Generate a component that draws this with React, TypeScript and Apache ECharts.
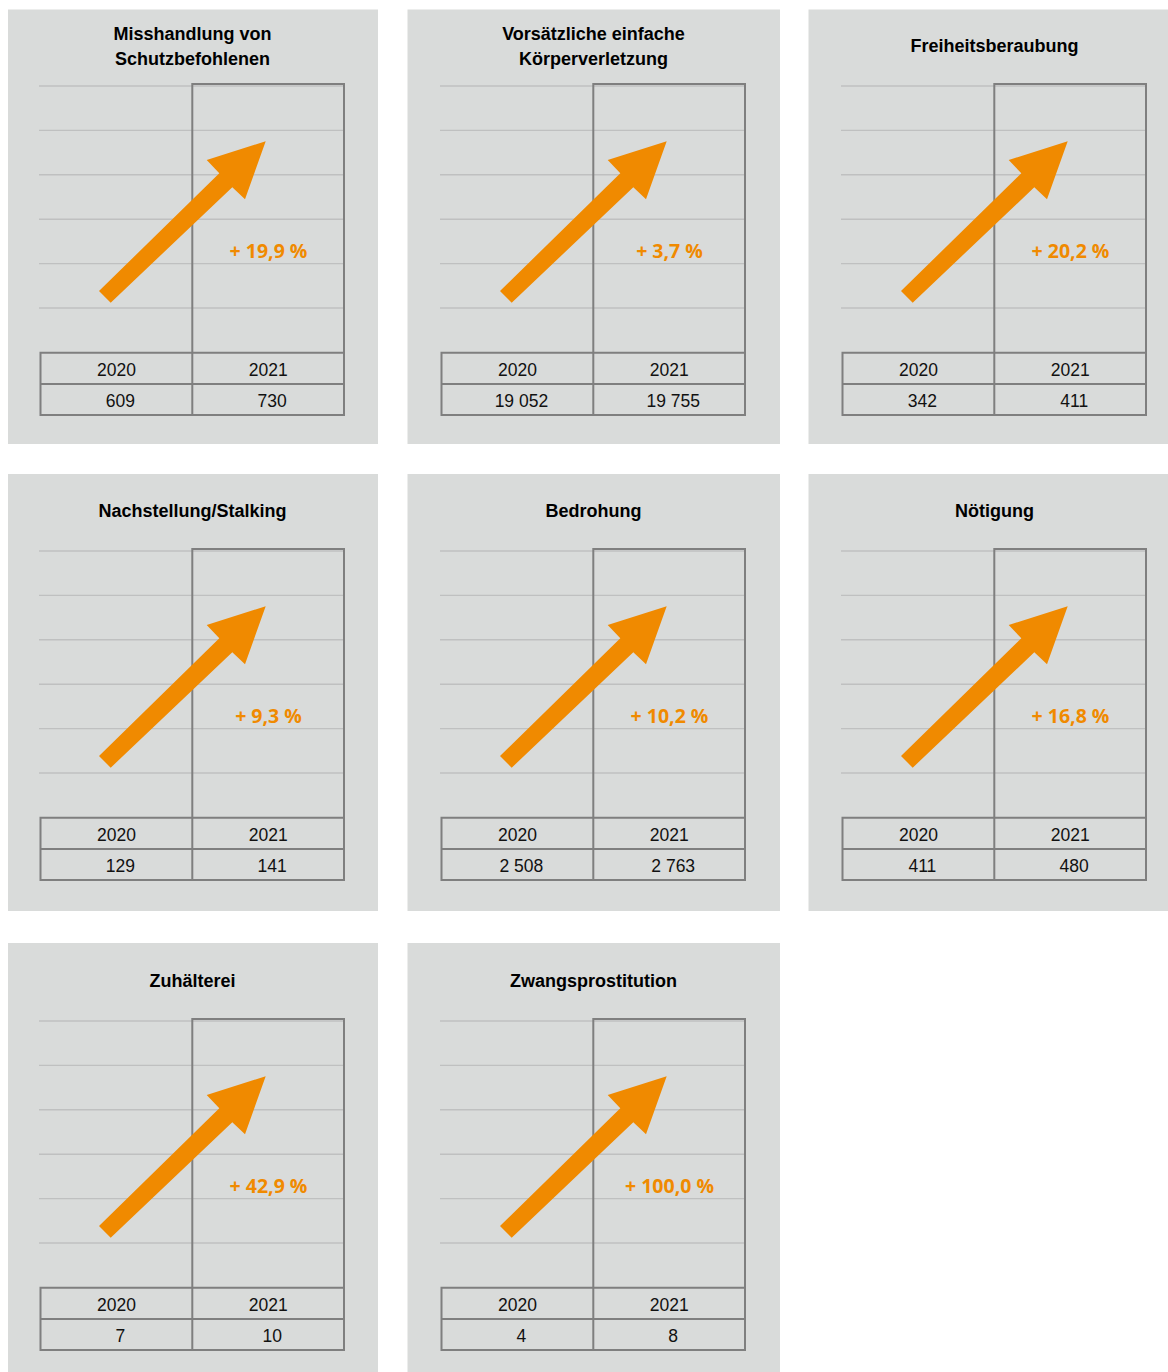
import React, { useEffect, useRef } from "react";
import * as echarts from "echarts";

const titles = [
  "Misshandlung von\nSchutzbefohlenen",
  "Vorsätzliche einfache\nKörperverletzung",
  "Freiheitsberaubung",
  "Nachstellung/Stalking",
  "Bedrohung",
  "Nötigung",
  "Zuhälterei",
  "Zwangsprostitution",
];
const years = ["2020", "2021"];
const values2020 = [609, 19052, 342, 129, 2508, 411, 7, 4];
const values2021 = [730, 19755, 411, 141, 2763, 480, 10, 8];

const colX = [0, 401, 802];
const rowY = [0, 465, 935];
const bgCols = [
  { x: 8, w: 370 },
  { x: 407.5, w: 372.5 },
  { x: 808.5, w: 360 },
];
const bgRows = [
  { y: 9.5, h: 434.5 },
  { y: 474, h: 437 },
  { y: 943, h: 429 },
];

const BG = "#D9DBDA";
const GRID = "#BFC0C0";
const BORDER = "#7F7F7F";
const ORANGE = "#F08A00";

const fmt = (n: number) => String(n).replace(/\B(?=(\d{3})+(?!\d))/g, " ");
const pct = (a: number, b: number) =>
  "+ " + (Math.round(((b - a) / a) * 1000) / 10).toFixed(1).replace(".", ",") + " %";

function buildGraphics() {
  const els: any[] = [];
  titles.forEach((title, i) => {
    const col = i % 3;
    const row = Math.floor(i / 3);
    const dx = colX[col];
    const dy = rowY[row];
    // background
    els.push({
      type: "rect",
      shape: { x: bgCols[col].x, y: bgRows[row].y, width: bgCols[col].w, height: bgRows[row].h },
      style: { fill: BG },
      silent: true,
    });
    // grid lines
    for (let k = 0; k < 6; k++) {
      const y = 86 + k * 44.4 + dy;
      els.push({
        type: "line",
        shape: { x1: 39 + dx, y1: y, x2: 343 + dx, y2: y },
        style: { stroke: GRID, lineWidth: 1.4 },
        silent: true,
      });
    }
    // 2021 column frame
    els.push({
      type: "rect",
      shape: { x: 192.3 + dx, y: 84 + dy, width: 151.7, height: 331 },
      style: { fill: "none", stroke: BORDER, lineWidth: 2 },
      silent: true,
    });
    // table frame
    els.push({
      type: "rect",
      shape: { x: 40.5 + dx, y: 352.7 + dy, width: 303.5, height: 62.3 },
      style: { fill: "none", stroke: BORDER, lineWidth: 2 },
      silent: true,
    });
    els.push({
      type: "line",
      shape: { x1: 40.5 + dx, y1: 384 + dy, x2: 344 + dx, y2: 384 + dy },
      style: { stroke: BORDER, lineWidth: 2 },
      silent: true,
    });
    // arrow
    const pts = [
      [99, 291],
      [219.3, 173.3],
      [206.7, 160],
      [265.7, 141.3],
      [245, 199.3],
      [232.3, 187.3],
      [110.7, 302.7],
    ].map(([x, y]) => [x + dx, y + dy]);
    els.push({
      type: "polygon",
      shape: { points: pts },
      style: { fill: ORANGE },
      silent: true,
    });
    // title
    els.push({
      type: "text",
      x: 192.5 + dx,
      y: 46.3 + dy,
      style: {
        text: title,
        fill: "#000",
        fontFamily: '"Liberation Sans", Arial, sans-serif',
        fontWeight: "bold",
        fontSize: 18,
        align: "center",
        verticalAlign: "middle",
        lineHeight: 25,
      },
      silent: true,
    });
    // percent
    els.push({
      type: "text",
      x: 268.5 + dx,
      y: 250.5 + dy,
      style: {
        text: pct(values2020[i], values2021[i]),
        fill: ORANGE,
        fontFamily: '"Open Sans", sans-serif',
        fontWeight: 700,
        fontSize: 19.5,
        align: "center",
        verticalAlign: "middle",
      },
      silent: true,
    });
    // table texts
    const centers = [116.4 + dx, 268.2 + dx];
    const vals = [values2020[i], values2021[i]];
    years.forEach((yr, j) => {
      els.push({
        type: "text",
        x: centers[j],
        y: 369.5 + dy,
        style: {
          text: yr,
          fill: "#111",
          fontFamily: '"Liberation Sans", Arial, sans-serif',
          fontSize: 17.5,
          align: "center",
          verticalAlign: "middle",
        },
        silent: true,
      });
      els.push({
        type: "text",
        x: centers[j] + 4,
        y: 400.5 + dy,
        style: {
          text: fmt(vals[j]),
          fill: "#111",
          fontFamily: '"Liberation Sans", Arial, sans-serif',
          fontSize: 17.5,
          align: "center",
          verticalAlign: "middle",
        },
        silent: true,
      });
    });
  });
  return els;
}

export default function App() {
  const ref = useRef<HTMLDivElement>(null);
  useEffect(() => {
    document.body.style.margin = "0";
    document.body.style.background = "#fff";
    if (!ref.current) return;
    const chart = echarts.init(ref.current, null, { renderer: "svg" });
    chart.setOption({
      animation: false,
      backgroundColor: "#ffffff",
      graphic: { elements: buildGraphics() },
    });
    return () => chart.dispose();
  }, []);
  return <div ref={ref} style={{ width: 1168, height: 1372 }} />;
}
